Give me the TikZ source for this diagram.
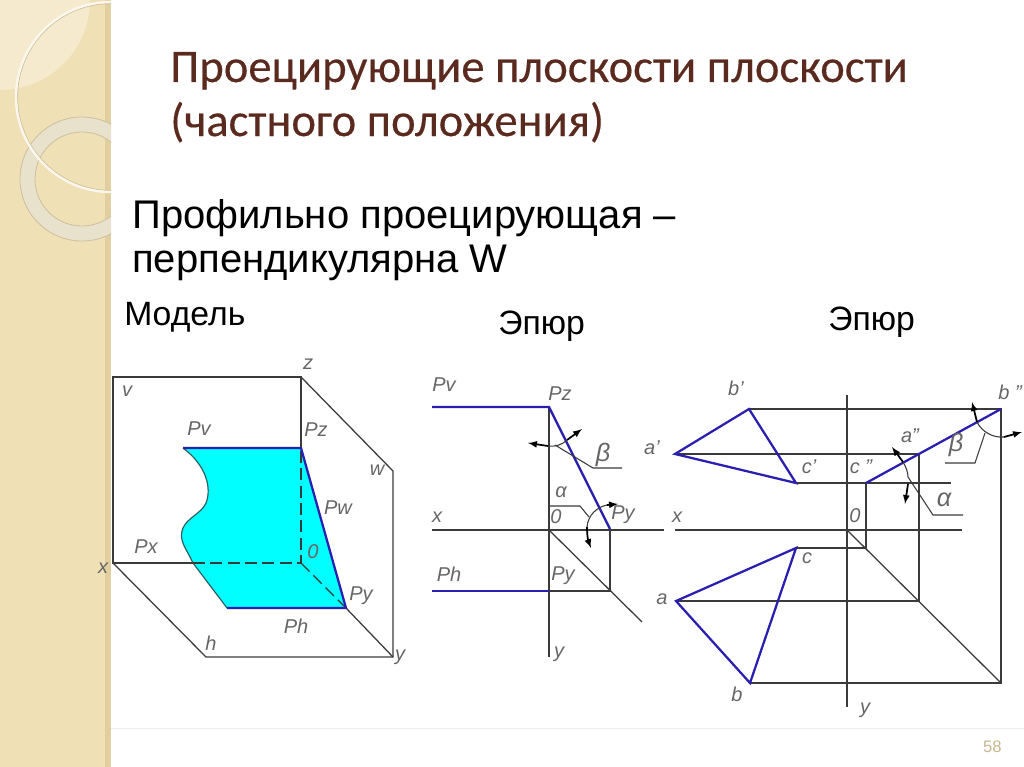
\documentclass[tikz,border=0pt]{standalone}
\usepackage{fontspec}
\setmainfont{Liberation Sans}
\newfontfamily\titlefont[FakeBold=0.3]{Carlito}
\definecolor{sidetan}{HTML}{F0E0B6}
\definecolor{sideedge}{HTML}{E2CF9F}
\definecolor{sidelight}{HTML}{F5EACD}
\definecolor{ringcol}{HTML}{E8E1CC}
\definecolor{ringedge}{HTML}{CDBF9C}
\definecolor{titlecol}{HTML}{5A2A1E}
\definecolor{planeblue}{HTML}{2A1FB0}
\definecolor{planecyan}{HTML}{00FFFF}
\definecolor{linecol}{HTML}{3A3A3A}
\definecolor{labelcol}{HTML}{666666}
\definecolor{pagecol}{HTML}{C6B78F}
\tikzset{
  heading/.style={anchor=base west,inner sep=0pt,font=\titlefont\fontsize{35}{35}\selectfont,text=titlecol},
  bodytext/.style={anchor=base west,inner sep=0pt,font=\fontsize{30}{30}\selectfont},
  captext/.style={anchor=base west,inner sep=0pt,font=\fontsize{25.3}{25.3}\selectfont},
  lbl/.style={inner sep=0pt,text=labelcol,font=\itshape\fontsize{15}{15}\selectfont},
  biglbl/.style={inner sep=0pt,text=labelcol,font=\itshape\fontsize{19}{19}\selectfont},
  thin line/.style={draw=linecol,line width=0.95pt},
  blue line/.style={draw=planeblue,line width=1.7pt},
  angle arc/.style={draw=linecol,line width=0.8pt},
  angle arrow/.style={draw=black,line width=1.3pt,-latex},
}
\begin{document}
\begin{tikzpicture}[x=0.75pt,y=-0.75pt]
    \useasboundingbox (0,0) rectangle (1024,767);
    % sidebar
    \fill[sidetan] (0,0) rectangle (111,767);
    \fill[sideedge] (105,0) rectangle (111,767);
    \begin{scope}
        \clip (0,0) rectangle (111,767);
        \fill[sidelight] (0,0) -- (90,0) arc[start angle=0,end angle=90,radius=90] -- cycle;
        \draw[ringcol,line width=11.5pt] (82,179) circle[radius=54.5];
        \draw[ringedge,line width=0.6pt] (82,179) circle[radius=62];
        \draw[ringedge,line width=0.6pt] (82,179) circle[radius=47];
        \draw[ringedge,line width=0.7pt] (111,97) circle[radius=93.5];
        \draw[white!75!sidetan,line width=1.8pt] (111,97) circle[radius=95];
    \end{scope}
    \draw[white!93!black,line width=0.6pt] (111,728) -- (1024,728);
    % texts
    \node[heading] (title1) at (170,82) {Проецирующие плоскости плоскости};
    \node[heading] (title2) at (170,136) {(частного положения)};
    \node[bodytext] (sub1) at (132,228) {Профильно проецирующая –};
    \node[bodytext] (sub2) at (132,272) {перпендикулярна W};
    \node[captext] (model) at (124,325) {Модель};
    \node[captext] (epure1) at (498,334) {Эпюр};
    \node[captext] (epure2) at (828,330) {Эпюр};
    \node[anchor=base east,inner sep=0pt,text=pagecol,font=\fontsize{12.5}{12.5}\selectfont] (pagenum) at (1002,752) {58};
    % model
    \coordinate (vtl) at (113,377);
    \coordinate (vtr) at (301,377);
    \coordinate (vbl) at (113,563);
    \coordinate (orig) at (301,563);
    \coordinate (wtop) at (393,471);
    \coordinate (wbot) at (393,657);
    \coordinate (hbot) at (206,657);
    \coordinate (pz) at (301,448);
    \coordinate (pv) at (183,448);
    \coordinate (py) at (346,608);
    \coordinate (ph) at (227,608);
    \fill[planecyan] (pv) -- (pz) -- (py) -- (ph) -- (193,563)
        .. controls (186,548) and (178,540) .. (183,528)
        .. controls (188,517) and (201,514) .. (206,503)
        .. controls (212,488) and (206,465) .. (183,448) -- cycle;
    \draw[line width=0.9pt,draw=linecol!80!planecyan] (pv)
        .. controls (206,465) and (212,488) .. (206,503)
        .. controls (201,514) and (188,517) .. (183,528)
        .. controls (178,540) and (186,548) .. (193,563) -- (ph);
    \draw[thin line] (pz) -- (vtr) -- (vtl) -- (vbl) -- (193,563);
    \draw[thin line] (vtr) -- (wtop) -- (wbot) -- (hbot) -- (vbl);
    \draw[thin line] (py) -- (wbot);
    \draw[thin line,dash pattern=on 9pt off 4pt] (193,563) -- (orig) -- (pz);
    \draw[thin line,dash pattern=on 9pt off 4pt] (orig) -- (py);
    \draw[blue line] (pv) -- (pz) -- (py) -- (ph);
    \node[lbl] (lv) at (127,391) {v};
    \node[lbl] (lz) at (308,364) {z};
    \node[lbl] (lpv) at (199,429) {Pv};
    \node[lbl] (lpz) at (316,430) {Pz};
    \node[lbl] (lw) at (377,470) {w};
    \node[lbl] (lpw) at (338,508) {Pw};
    \node[lbl] (lpx) at (146,547) {Px};
    \node[lbl] (lx) at (103,568) {x};
    \node[lbl] (lo) at (313,552) {0};
    \node[lbl] (lpy) at (361,596) {Py};
    \node[lbl] (lph) at (296,626) {Ph};
    \node[lbl] (lh) at (211,643) {h};
    \node[lbl] (ly) at (400,657) {y};
    % first epure
    \coordinate (apv) at (432,407);
    \coordinate (apz) at (549,407);
    \coordinate (ax) at (432,530);
    \coordinate (ax2) at (664,530);
    \coordinate (ao) at (549,530);
    \coordinate (ay) at (549,657);
    \coordinate (apy) at (610,529);
    \coordinate (aph) at (432,591);
    \coordinate (apy2) at (549,591);
    \coordinate (adiag) at (610,591);
    \coordinate (aend) at (642,622);
    \draw[thin line] (ax) -- (ax2);
    \draw[thin line] (apz) -- (ay);
    \draw[thin line] (ao) -- (aend);
    \draw[thin line] (apy) -- (adiag) -- (apy2);
    \draw[blue line] (apv) -- (apz) -- (apy);
    \draw[blue line] (aph) -- (apy2);
    \draw[angle arrow] (548,446) -- (528,443);
    \draw[angle arrow] (567,440) -- (582,429);
    \draw[angle arc] (548,446) .. controls (555,447) and (562,445) .. (567,440);
    \draw[angle arc] (555,445) -- (593,468) -- (622,468);
    \draw[angle arc] (549,506) -- (580,506) -- (589,517);
    \draw[angle arc] (587,527) .. controls (588,515) and (597,507) .. (607,505);
    \draw[angle arrow] (607,505) -- (618,504);
    \draw[angle arrow] (587,527) .. controls (587,535) and (588,540) .. (591,548);
    \node[lbl] (bpv) at (444,385) {Pv};
    \node[lbl] (bpz) at (560,394) {Pz};
    \node[biglbl] (bbeta) at (603,455) {β};
    \node[lbl] (bal) at (561,492) {α};
    \node[lbl] (bo) at (556,517) {0};
    \node[lbl] (bpy) at (623,515) {Py};
    \node[lbl] (bx) at (437,517) {x};
    \node[lbl] (bph) at (449,574) {Ph};
    \node[lbl] (bpy2) at (563,576) {Py};
    \node[lbl] (by) at (559,654) {y};
    % second epure
    \coordinate (bb) at (749,409);
    \coordinate (ab) at (675,454);
    \coordinate (cb) at (796,483);
    \coordinate (bbb) at (1001,409);
    \coordinate (aaa) at (919,454);
    \coordinate (ccc) at (866,483);
    \coordinate (cc) at (796,548);
    \coordinate (ccd) at (866,548);
    \coordinate (aa) at (676,601);
    \coordinate (aad) at (919,601);
    \coordinate (bt) at (750,683);
    \coordinate (bod) at (1001,683);
    \coordinate (co) at (847,530);
    \draw[thin line] (847,395) -- (847,707);
    \draw[thin line] (675,530) -- (962,530);
    \draw[thin line] (bb) -- (bbb) -- (bod) -- (bt);
    \draw[thin line] (ab) -- (aaa) -- (aad) -- (aa);
    \draw[thin line] (cb) -- (951,483);
    \draw[thin line] (ccc) -- (ccd) -- (cc);
    \draw[thin line] (co) -- (bod);
    \draw[blue line] (ab) -- (bb) -- (cb) -- cycle;
    \draw[blue line] (aa) -- (cc) -- (bt) -- cycle;
    \draw[blue line] (ccc) -- (bbb);
    \draw[angle arc] (903,462) .. controls (906,467) and (908,472) .. (908,477);
    \draw[angle arrow] (903,462) -- (892,447);
    \draw[angle arrow] (908,484) -- (905,504);
    \draw[angle arc] (908,477) -- (933,515) -- (963,515);
    \draw[angle arrow] (977,422) -- (972,402);
    \draw[angle arc] (977,422) .. controls (982,432) and (993,438) .. (1004,437);
    \draw[angle arrow] (1004,437) -- (1022,432);
    \draw[angle arc] (985,433) -- (975,463) -- (945,463);
    \node[lbl] (cb1) at (736,388) {b'};
    \node[lbl] (cb2) at (1010,392) {b ''};
    \node[lbl] (ca1) at (652,448) {a'};
    \node[lbl] (ca2) at (910,436) {a''};
    \node[biglbl] (cbeta) at (956,445) {β};
    \node[lbl] (cc1) at (809,467) {c'};
    \node[lbl] (cc2) at (861,467) {c ''};
    \node[biglbl] (cal) at (944,500) {α};
    \node[lbl] (cx) at (677,517) {x};
    \node[lbl] (co2) at (855,516) {0};
    \node[lbl] (cc3) at (807,558) {c};
    \node[lbl] (ca3) at (662,599) {a};
    \node[lbl] (cb3) at (737,694) {b};
    \node[lbl] (cy) at (865,710) {y};
\end{tikzpicture}
\end{document}
